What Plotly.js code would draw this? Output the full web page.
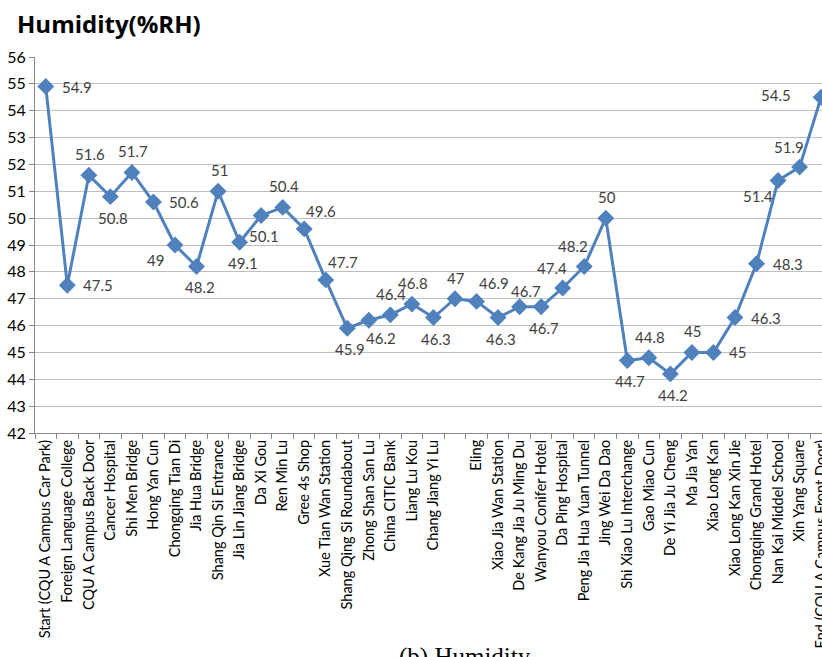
<!DOCTYPE html>
<html>
<head>
<meta charset="utf-8">
<script src="https://cdn.plot.ly/plotly-3.0.1.min.js"></script>
<style>
html,body{margin:0;padding:0;background:#fff;}
#chart{width:822px;height:657px;}
</style>
</head>
<body>
<div id="chart"></div>
<script>
const locations = [
  "Start (CQU A Campus Car Park)", "Foreign Language College", "CQU A Campus Back Door",
  "Cancer Hospital", "Shi Men Bridge", "Hong Yan Cun", "Chongqing Tian Di", "Jia Hua Bridge",
  "Shang Qin Si Entrance", "Jia Lin Jiang Bridge", "Da Xi Gou", "Ren Min Lu", "Gree 4s Shop",
  "Xue Tian Wan Station", "Shang Qing Si Roundabout", "Zhong Shan San Lu", "China CITIC Bank",
  "Liang Lu Kou", "Chang Jiang Yi Lu", " ", "Eling", "Xiao Jia Wan Station",
  "De Kang Jia Ju Ming Du", "Wanyou Conifer Hotel", "Da Ping Hospital",
  "Peng Jia Hua Yuan Tunnel", "Jing Wei Da Dao", "Shi Xiao Lu Interchange", "Gao Miao Cun",
  "De Yi Jia Ju Cheng", "Ma Jia Yan", "Xiao Long Kan", "Xiao Long Kan Xin Jie",
  "Chongqing Grand Hotel", "Nan Kai Middel School", "Xin Yang Square",
  "End (CQU A Campus Front Door)"
];
const humidity = [
  54.9, 47.5, 51.6, 50.8, 51.7, 50.6, 49, 48.2, 51, 49.1, 50.1, 50.4, 49.6,
  47.7, 45.9, 46.2, 46.4, 46.8, 46.3, 47, 46.9, 46.3, 46.7, 46.7, 47.4,
  48.2, 50, 44.7, 44.8, 44.2, 45, 45, 46.3, 48.3, 51.4, 51.9, 54.5
];
const labelPos = [
  "right", "right", "top", "bottom", "top",
  "right", "bottomleft", "bottom", "top", "bottom",
  "bottom", "top", "topright", "topright", "bottom",
  "bottomright", "top", "top", "bottom", "top",
  "topright", "bottom", "topnear", "bottom", "topleft",
  "topleft", "top", "bottom", "top", "bottom",
  "top", "right", "right", "right", "bottomleft",
  "topleft", "left"
];
const posStyle = {
  right:       {xanchor: "left",   xshift: 14,  yshift: 0},
  left:        {xanchor: "right",  xshift: -28, yshift: 2},
  top:         {xanchor: "center", xshift: 1,   yshift: 21},
  topnear:     {xanchor: "center", xshift: 6,   yshift: 16},
  bottom:      {xanchor: "center", xshift: 3,   yshift: -21},
  bottomright: {xanchor: "center", xshift: 12,  yshift: -18},
  topright:    {xanchor: "center", xshift: 17,  yshift: 18},
  topleft:     {xanchor: "center", xshift: -11, yshift: 20},
  bottomleft:  {xanchor: "center", xshift: -20, yshift: -15}
};
const xIdx = locations.map((_, i) => i);

const trace = {
  type: "scatter",
  mode: "lines+markers",
  x: xIdx,
  y: humidity,
  line: {color: "#4F81BD", width: 3},
  marker: {symbol: "diamond", size: 13, color: "#4F81BD"},
  cliponaxis: false,
  hoverinfo: "skip"
};

const labelAnnotations = humidity.map((v, i) => {
  const s = posStyle[labelPos[i]];
  return {
    x: xIdx[i], y: v, xref: "x", yref: "y",
    text: String(v), showarrow: false,
    xanchor: s.xanchor, yanchor: "middle",
    xshift: s.xshift, yshift: s.yshift,
    font: {family: "Lato, 'Open Sans', sans-serif", size: 15, color: "#404040"}
  };
});

const layout = {
  width: 822, height: 657,
  margin: {l: 35, r: 0, t: 57, b: 224, pad: 0},
  paper_bgcolor: "#ffffff", plot_bgcolor: "#ffffff",
  showlegend: false,
  title: {
    text: "<b>Humidity(%RH)</b>",
    font: {family: "'Open Sans', sans-serif", size: 24, color: "#000"},
    x: 17/822, xanchor: "left", xref: "container",
    y: 1 - 25/657, yanchor: "middle", yref: "container"
  },
  xaxis: {
    type: "linear",
    range: [-0.5, 36.04],
    tickmode: "array",
    tickvals: xIdx,
    ticktext: locations,
    tickangle: -90,
    ticklabeloverflow: "allow",
    tickfont: {family: "Lato, sans-serif", size: 14.5, color: "#000"},
    showgrid: false,
    zeroline: false,
    showline: true, linecolor: "#868686", linewidth: 1,
    ticks: "",
    automargin: false
  },
  xaxis2: {
    overlaying: "x",
    range: [-0.5, 36.04],
    tickmode: "array",
    tickvals: xIdx.map(i => i - 0.5),
    ticktext: xIdx.map(() => ""),
    ticks: "outside", ticklen: 5, tickcolor: "#868686", tickwidth: 1,
    showgrid: false, zeroline: false, showline: false,
    side: "bottom", anchor: "y",
    automargin: false
  },
  yaxis: {
    range: [42, 56],
    dtick: 1,
    tickfont: {family: "Lato, sans-serif", size: 16, color: "#000"},
    showgrid: true, gridcolor: "#BFBFBF", gridwidth: 1,
    zeroline: false,
    showline: true, linecolor: "#868686", linewidth: 1,
    ticks: "outside", ticklen: 5, tickcolor: "#868686",
    automargin: false
  },
  annotations: labelAnnotations.concat([{
    text: "(b) Humidity",
    xref: "paper", yref: "paper",
    x: (465 - 35) / 787, xanchor: "center",
    y: (433 - 641) / 376, yanchor: "top",
    showarrow: false,
    font: {family: "'Liberation Serif', 'Times New Roman', serif", size: 25, color: "#000"}
  }])
};

const dummy = {
  type: "scatter", x: [0], y: [42], xaxis: "x2", yaxis: "y",
  mode: "markers", marker: {opacity: 0}, hoverinfo: "skip", showlegend: false
};

Plotly.newPlot("chart", [dummy, trace], layout, {staticPlot: true, displayModeBar: false});
</script>
</body>
</html>
